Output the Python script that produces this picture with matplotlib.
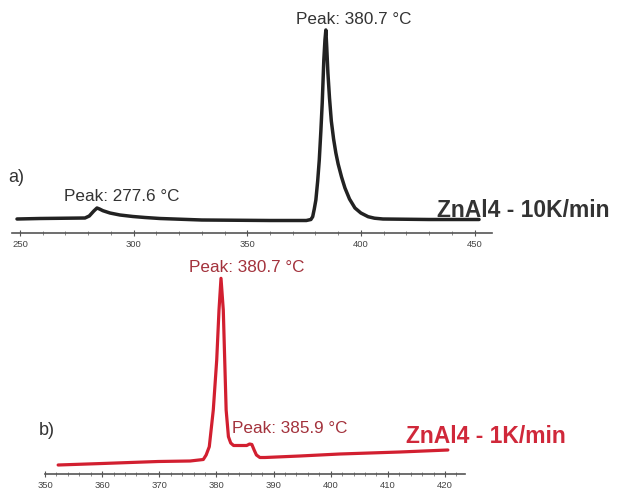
import matplotlib
matplotlib.use("Agg")
import matplotlib.pyplot as plt
from matplotlib.ticker import MultipleLocator

plt.rcParams["font.family"] = ["Liberation Sans", "DejaVu Sans"]

# a) ZnAl4 heated at 10 K/min (signal in arbitrary units)
temp_10k = [248.7, 258.8, 278.6, 280.5, 282.5, 283.9, 285.0, 286.5, 289.6, 294.0,
            299.7, 305.0, 311.6, 330.0, 360.0, 376.0, 378.0, 378.8, 379.5, 380.2,
            381.0, 381.7, 382.4, 383.0, 383.7, 384.2, 384.6, 385.0, 385.5, 386.2,
            387.0, 388.0, 389.0, 390.0, 391.5, 393.0, 395.0, 397.4, 400.0, 403.2,
            406.0, 409.7, 430.0, 452.0]
signal_10k = [14, 14.5, 15, 17, 22, 25, 24, 22.3, 20, 18,
              16.5, 15.5, 14.5, 13, 12.5, 12.5, 13.5, 16.3, 24, 33,
              52, 73, 102, 130, 173, 193, 203, 185, 160, 135,
              112, 94, 80, 69, 56, 45, 34, 25, 20, 16.3,
              14.8, 14, 13.5, 13.5]

# b) ZnAl4 heated at 1 K/min
temp_1k = [352.3, 360.0, 369.8, 375.4, 377.7, 378.2, 378.75, 379.45, 380.05, 380.45,
           380.8, 381.2, 381.45, 381.7, 382.1, 382.5, 383.0, 385.3, 385.8, 386.2,
           386.6, 387.0, 387.6, 388.5, 394.6, 401.6, 412.1, 420.5]
signal_1k = [9, 10.5, 12.5, 13, 14.5, 19, 27.3, 64, 114, 164,
             195.7, 164, 114, 64, 37.3, 31, 28.5, 28.5, 30, 29.5,
             24, 19, 16.5, 16.5, 18, 20, 22, 24]

W, H = 620, 490
fig = plt.figure(figsize=(W / 100, H / 100), dpi=100)


def box(x0, y0, x1, y1):
    # pixel box (top-left origin) -> figure fraction rect
    return [x0 / W, 1 - y1 / H, (x1 - x0) / W, (y1 - y0) / H]


def put(x, y, s, **kw):
    fig.text(x / W, 1 - y / H, s, **kw)


def style_axis(ax, major, minor):
    for side in ["top", "left", "right"]:
        ax.spines[side].set_visible(False)
    ax.spines["bottom"].set_color("#555555")
    ax.spines["bottom"].set_linewidth(1.2)
    ax.set_yticks([])
    ax.xaxis.set_major_locator(MultipleLocator(major))
    ax.xaxis.set_minor_locator(MultipleLocator(minor))
    ax.tick_params(axis="x", which="major", direction="inout", length=4,
                   width=0.8, color="#555555", labelsize=6.8,
                   labelcolor="#444444", pad=3)
    ax.tick_params(axis="x", which="minor", direction="inout", length=2.5,
                   width=0.6, color="#777777")
    ax.patch.set_visible(False)


ax1 = fig.add_axes(box(12, 23, 492, 233))
ax1.plot(temp_10k, signal_10k, color="#222222", lw=2.5,
         solid_joinstyle="round", solid_capstyle="round")
ax1.set_xlim(246.5, 457.7)
ax1.set_ylim(0, 210)
style_axis(ax1, 50, 10)

ax2 = fig.add_axes(box(45, 260, 465, 474))
ax2.plot(temp_1k, signal_1k, color="#d21f30", lw=2.3,
         solid_joinstyle="round", solid_capstyle="round")
ax2.set_xlim(350, 423.5)
ax2.set_ylim(0, 214)
style_axis(ax2, 10, 2)

grey = "#333333"
put(354, 20, "Peak: 380.7 °C", fontsize=12.3, color=grey, ha="center", va="center")
put(122, 196, "Peak: 277.6 °C", fontsize=12.3, color=grey, ha="center", va="center")
put(437, 217, "ZnAl4 - 10K/min", fontsize=16.5, fontweight="bold", color=grey,
    ha="left", va="baseline")
put(8, 177, "a)", fontsize=13, color=grey, ha="left", va="center")

dark_red = "#a3323c"
put(247, 268, "Peak: 380.7 °C", fontsize=12.3, color=dark_red, ha="center", va="center")
put(290, 428, "Peak: 385.9 °C", fontsize=12.3, color=dark_red, ha="center", va="center")
put(406, 443, "ZnAl4 - 1K/min", fontsize=16.5, fontweight="bold", color="#d0283a",
    ha="left", va="baseline")
put(39, 430, "b)", fontsize=13, color=grey, ha="left", va="center")

fig.savefig("out.png", dpi=100)
